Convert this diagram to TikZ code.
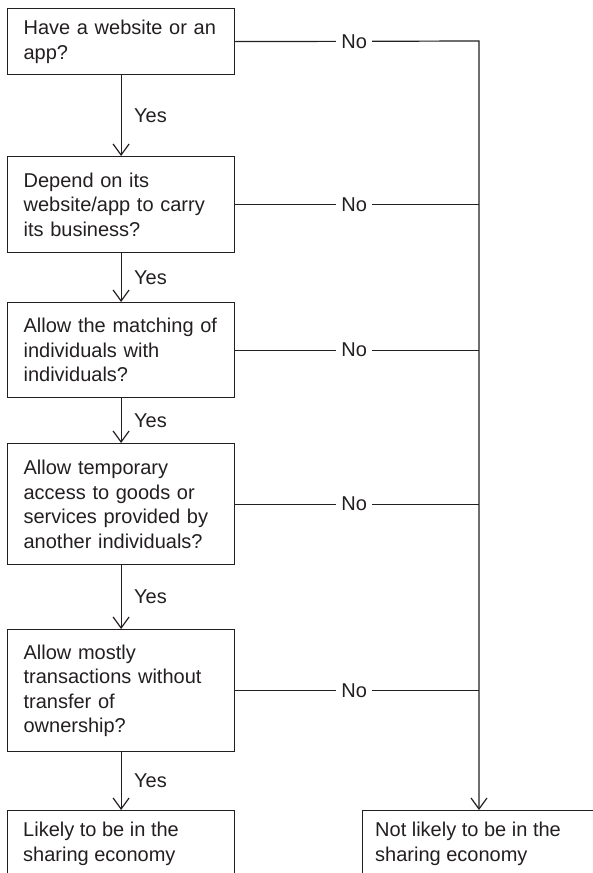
\documentclass[tikz,border=0pt]{standalone}
\usepackage{fontspec}
\setmainfont{Liberation Sans}
\usetikzlibrary{arrows.meta}
\definecolor{ink}{RGB}{35,31,32}
\begin{document}
\begin{tikzpicture}[x=1pt,y=-1pt,
  font=\fontsize{20}{24.5}\selectfont,
  every node/.style={text=ink},
  qbox/.style={draw=ink, line width=1.2pt, anchor=north west, text width=195pt,
    inner xsep=16pt, inner ysep=0pt, align=left, minimum width=227pt},
  endbox/.style={draw=ink, line width=1.2pt, anchor=north west, inner sep=0pt,
    minimum height=90pt},
  endtext/.style={anchor=north west, align=left, inner sep=0pt},
  link/.style={draw=ink, line width=1.2pt},
  flow/.style={link, -{Straight Barb[length=11pt,width=16pt,line width=1.2pt]}},
  yeslab/.style={anchor=west, inner sep=0pt, xshift=12.5pt},
  nolab/.style={fill=white, inner xsep=5pt, inner ysep=2pt, pos=0.488}
]
\useasboundingbox (0,0) rectangle (593,873);
\clip (0,0) rectangle (593,873);

% questions
\node[qbox, minimum height=66pt]  (q1) at (7,8)   {Have a website or an\\app?};
\node[qbox, minimum height=96pt]  (q2) at (7,156) {Depend on its\\website/app to carry\\its business?};
\node[qbox, minimum height=95pt]  (q3) at (7,302) {Allow the matching of\\individuals with\\individuals?};
\node[qbox, minimum height=121pt] (q4) at (7,443) {Allow temporary\\access to goods or\\services provided by\\another individuals?};
\node[qbox, minimum height=122pt] (q5) at (7,629) {Allow mostly\\transactions without\\transfer of\\ownership?};

% outcomes (running off the bottom edge)
\node[endbox, minimum width=227pt] (yesbox) at (7,810) {};
\node[endtext] (yestext) at (23,822) {Likely to be in the\\sharing economy};
\node[endbox, minimum width=300pt] (nobox) at (362,810) {};
\node[endtext] (notext) at (375,822) {Not likely to be in the\\sharing economy};

% right-hand rail collecting the "No" branches
\coordinate (rail) at (479,41);

% "Yes" branches
\draw[flow] (q1.south) -- node[yeslab] {Yes} (q2.north);
\draw[flow] (q2.south) -- node[yeslab] {Yes} (q3.north);
\draw[flow] (q3.south) -- node[yeslab] {Yes} (q4.north);
\draw[flow] (q4.south) -- node[yeslab] {Yes} (q5.north);
\draw[flow] (q5.south) -- node[yeslab] {Yes} (yesbox.north);

% "No" branches
\draw[flow] (q1.east) -- node[nolab] {No} (rail) -- (rail |- nobox.north);
\draw[link] (q2.east) -- node[nolab] {No} (q2.east -| rail);
\draw[link] (q3.east) -- node[nolab] {No} (q3.east -| rail);
\draw[link] (q4.east) -- node[nolab] {No} (q4.east -| rail);
\draw[link] (q5.east) -- node[nolab] {No} (q5.east -| rail);
\end{tikzpicture}
\end{document}
